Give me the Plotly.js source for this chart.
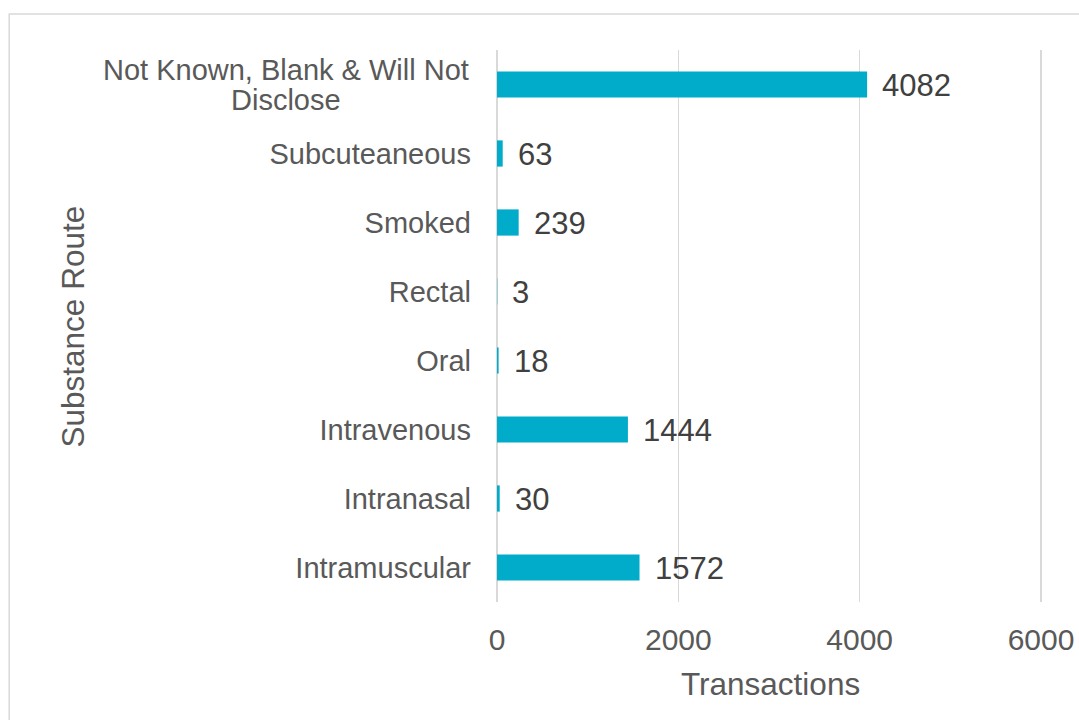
<!DOCTYPE html>
<html>
<head>
<meta charset="utf-8">
<script src="https://cdn.plot.ly/plotly-3.0.1.min.js"></script>
<style>
html,body{margin:0;padding:0;background:#fff;}
#chart{width:1079px;height:720px;}
</style>
</head>
<body>
<div id="chart"></div>
<script>
// Data (bottom to top)
var categories = ["Intramuscular", "Intranasal", "Intravenous", "Oral", "Rectal", "Smoked", "Subcuteaneous", "Not Known, Blank & Will Not Disclose"];
var tickLabels = ["Intramuscular", "Intranasal", "Intravenous", "Oral", "Rectal", "Smoked", "Subcuteaneous", ""];
var wrappedLabelLines = ["Not Known, Blank & Will Not", "Disclose"];
var transactions = [1572, 30, 1444, 18, 3, 239, 63, 4082];
var xTicks = [0, 2000, 4000, 6000];

var FONT = "Liberation Sans, Arial, sans-serif";
var barColor = "#00ACC9";

var trace = {
  type: "bar",
  orientation: "h",
  y: categories,
  x: transactions,
  marker: {color: barColor, line: {width: 0}},
  hoverinfo: "x+y"
};

var annotations = [];
// data labels
for (var i = 0; i < categories.length; i++) {
  annotations.push({
    xref: "x", yref: "y",
    x: transactions[i], y: categories[i],
    text: String(transactions[i]),
    showarrow: false,
    xanchor: "left", yanchor: "middle",
    xshift: 13, yshift: -1,
    font: {family: FONT, size: 31, color: "#404040"}
  });
}
// wrapped category label (centered lines, tighter spacing)
var lineShifts = [15, -15];
for (var j = 0; j < wrappedLabelLines.length; j++) {
  annotations.push({
    xref: "paper", yref: "y",
    x: -0.3865, y: categories[categories.length - 1],
    text: wrappedLabelLines[j],
    showarrow: false,
    xanchor: "center", yanchor: "middle",
    yshift: lineShifts[j],
    font: {family: FONT, size: 29, color: "#595959"}
  });
}
// axis titles
annotations.push({
  xref: "paper", yref: "paper",
  x: -0.7757, y: 0.5,
  text: "Substance Route",
  textangle: -90,
  showarrow: false,
  xanchor: "center", yanchor: "middle",
  font: {family: FONT, size: 31.5, color: "#595959"}
});
annotations.push({
  xref: "paper", yref: "paper",
  x: 0.5, y: -0.1486,
  text: "Transactions",
  showarrow: false,
  xanchor: "center", yanchor: "middle",
  font: {family: FONT, size: 31.5, color: "#595959"}
});

var layout = {
  width: 1079,
  height: 720,
  margin: {l: 497, r: 36, t: 50, b: 118, pad: 0},
  paper_bgcolor: "#ffffff",
  plot_bgcolor: "#ffffff",
  showlegend: false,
  bargap: 0.62,
  font: {family: FONT, color: "#595959"},
  xaxis: {
    range: [0, 6022],
    tickvals: xTicks,
    ticktext: xTicks.map(String),
    showgrid: true,
    gridcolor: "#d9d9d9",
    gridwidth: 1.5,
    zeroline: true,
    zerolinecolor: "#d9d9d9",
    zerolinewidth: 1.5,
    showline: false,
    ticks: "",
    ticklabelstandoff: 17,
    tickfont: {family: FONT, size: 30, color: "#595959"},
    fixedrange: true,
    automargin: false
  },
  yaxis: {
    type: "category",
    categoryorder: "array",
    categoryarray: categories,
    tickvals: categories,
    ticktext: tickLabels,
    range: [-0.5, 7.5],
    showgrid: false,
    zeroline: false,
    showline: false,
    ticks: "",
    ticklabelstandoff: 25,
    tickfont: {family: FONT, size: 29, color: "#595959"},
    fixedrange: true,
    automargin: false
  },
  shapes: [{
    type: "rect",
    xref: "paper", yref: "paper",
    x0: -0.8934, x1: 1.3,
    y0: -0.4, y1: 1.0652,
    line: {color: "#d9d9d9", width: 1.5},
    fillcolor: "rgba(0,0,0,0)",
    layer: "below"
  }],
  annotations: annotations
};

Plotly.newPlot("chart", [trace], layout, {displayModeBar: false, staticPlot: true});
</script>
</body>
</html>
